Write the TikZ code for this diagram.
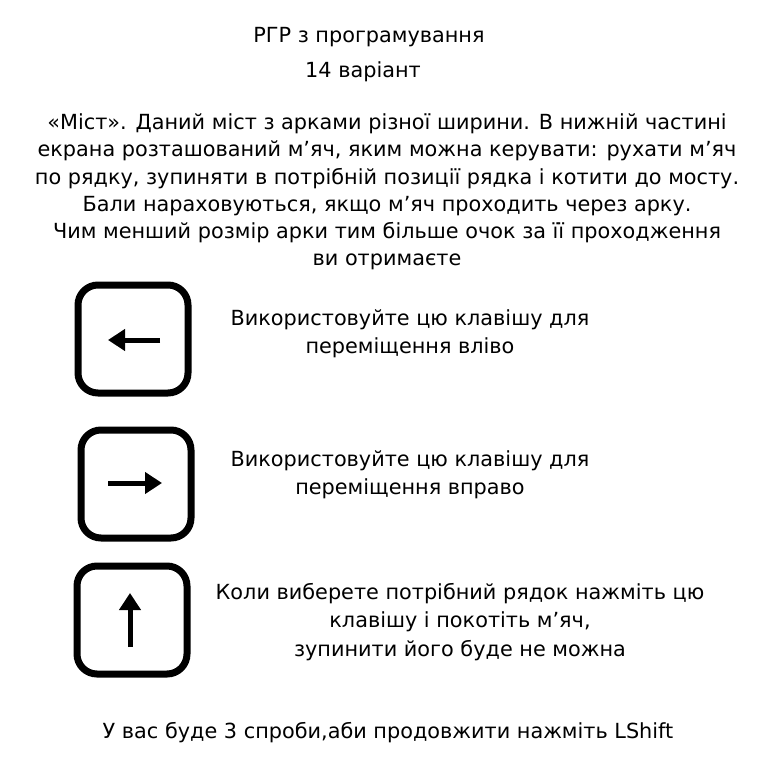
\documentclass[tikz,border=0pt]{standalone}
\usepackage{fontspec}
\setmainfont{DejaVu Sans}
\usetikzlibrary{arrows.meta, calc}

\begin{document}
\begin{tikzpicture}[x=1pt, y=-1pt,
	keybox/.style={draw, line width=7pt, rounded corners=20pt, minimum width=110pt, minimum height=108pt, inner sep=0pt},
	keyarrow/.style={line width=5pt, -{Triangle[length=17pt, width=21pt]}},
	info/.style={align=center, font=\fontsize{20.8}{28.5}\selectfont}]

	\useasboundingbox (0,0) rectangle (768,768);

	% heading
	\node (title) at (369,37) {\fontsize{20.8}{25}\selectfont РГР з програмування};
	\node (variant) at (363,72) {\fontsize{20.8}{25}\selectfont 14 варіант};

	\node[align=center, font=\fontsize{20.8}{27.3}\selectfont] (task) at (387,192) {%
		«Міст». Даний міст з арками різної ширини. В нижній частині\\
		екрана розташований м’яч, яким можна керувати: рухати м’яч\\
		по рядку, зупиняти в потрібній позиції рядка і котити до мосту.\\
		Бали нараховуються, якщо м’яч проходить через арку.\\
		Чим менший розмір арки тим більше очок за її проходження\\
		ви отримаєте};

	% keys
	\node[keybox] (kleft) at (133,339) {};
	\node[keybox] (kright) at (136,484) {};
	\node[keybox] (kup) at (132,620) {};

	\draw[keyarrow] ($ (kleft.center)+(27,1) $) -- ($ (kleft.center)+(-25,1) $);
	\draw[keyarrow] ($ (kright.center)+(-28,-1) $) -- ($ (kright.center)+(26,-1) $);
	\draw[keyarrow] ($ (kup.center)+(-2,27) $) -- ($ (kup.center)+(-2,-27) $);

	\node[info] (tleft) at (410,334) {Використовуйте цю клавішу для\\переміщення вліво};
	\node[info] (tright) at (410,475) {Використовуйте цю клавішу для\\переміщення вправо};
	\node[info] (tup) at (460,622) {Коли виберете потрібний рядок нажміть цю\\клавішу і покотіть м’яч,\\зупинити його буде не можна};

	\node[font=\fontsize{20.8}{25}\selectfont] (tries) at (388,733) {У вас буде 3 спроби,аби продовжити нажміть LShift};

\end{tikzpicture}
\end{document}
